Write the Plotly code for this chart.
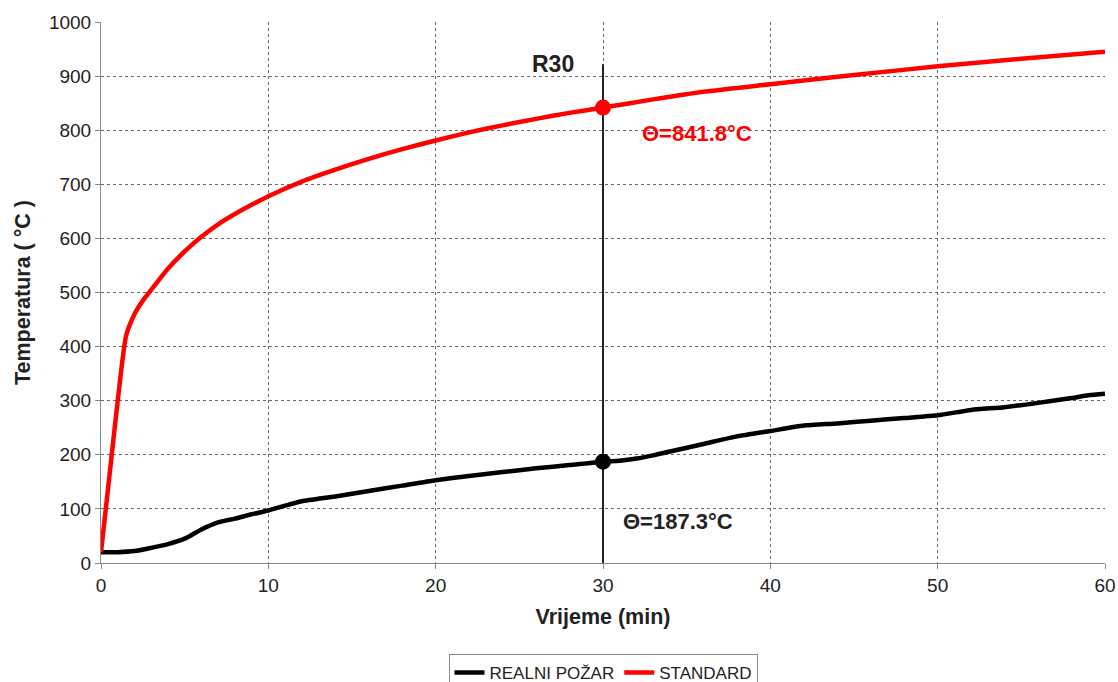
import plotly.graph_objects as go

# Data
t_real = [0, 1, 2, 3, 4, 5, 6, 7, 8, 9, 10, 11, 12, 14, 16, 18, 20, 22, 24, 26, 28, 30,
          31, 32, 33, 34, 36, 38, 40, 42, 44, 46, 48, 50, 52, 54, 56, 58, 59, 60]
temp_real = [20, 20, 22, 28, 35, 45, 62, 75, 82, 90, 97, 106, 114, 123, 133, 143, 153, 161,
             168, 175, 181, 187.3, 189, 193, 199, 206, 220, 234, 244, 254, 258, 263, 268, 273,
             283, 288, 296, 305, 310, 313]

t_std = [0, 0.5, 1, 1.5, 2, 2.5, 3, 4, 5, 6, 7, 8, 9, 10, 12, 14, 16, 18, 20, 22, 24, 26, 28,
         30, 33, 36, 40, 45, 50, 55, 60]
temp_std = [20, 160, 300, 420, 460, 485, 505, 544, 576, 603, 626, 645, 662, 678, 705, 727, 747,
            765, 781, 796, 809, 821, 832, 841.8, 857, 871, 885, 902, 918, 932, 945]

mark_t = 30
mark_std = 841.8
mark_real = 187.3
r_line_top = 922

x_ticks = [0, 10, 20, 30, 40, 50, 60]
y_ticks = [0, 100, 200, 300, 400, 500, 600, 700, 800, 900, 1000]

FONT = "Liberation Sans, Arial, sans-serif"

fig = go.Figure()

# vertical R30 line
fig.add_trace(go.Scatter(x=[mark_t, mark_t], y=[0, r_line_top], mode="lines",
                         line=dict(color="#222222", width=2), showlegend=False, hoverinfo="skip"))

fig.add_trace(go.Scatter(x=t_real, y=temp_real, mode="lines", name="REALNI POŽAR",
                         line=dict(color="black", width=4.5, shape="spline", smoothing=0.6)))
fig.add_trace(go.Scatter(x=t_std, y=temp_std, mode="lines", name="STANDARD",
                         line=dict(color="#ff0000", width=4.5, shape="spline", smoothing=0.6)))

fig.add_trace(go.Scatter(x=[mark_t], y=[mark_std], mode="markers",
                         marker=dict(color="#ff0000", size=16), showlegend=False))
fig.add_trace(go.Scatter(x=[mark_t], y=[mark_real], mode="markers",
                         marker=dict(color="black", size=16), showlegend=False))

fig.add_annotation(x=mark_t, y=r_line_top, text="<b>R30</b>", showarrow=False,
                   xanchor="right", yanchor="middle", xshift=-27, yshift=0,
                   font=dict(family=FONT, size=23, color="#222222"))
fig.add_annotation(x=32.2, y=793, text="<b>Θ=841.8°C</b>", showarrow=False,
                   xanchor="left", yanchor="middle",
                   font=dict(family=FONT, size=22, color="#ff0000"))
fig.add_annotation(x=31.1, y=76, text="<b>Θ=187.3°C</b>", showarrow=False,
                   xanchor="left", yanchor="middle",
                   font=dict(family=FONT, size=22, color="#222222"))

fig.update_layout(
    width=1118, height=682,
    margin=dict(l=101, r=13, t=22, b=119, autoexpand=False),
    paper_bgcolor="white", plot_bgcolor="white",
    font=dict(family=FONT, size=19, color="#222222"),
    legend=dict(orientation="h", x=0.5, xanchor="center", y=-0.168, yanchor="top",
                bordercolor="#888888", borderwidth=1, font=dict(size=17, color="#222222"),
                tracegroupgap=0),
)
fig.update_xaxes(range=[0, 60], tickvals=x_ticks, showgrid=True, gridcolor="#666666",
                 griddash="dot", gridwidth=1, showline=True, linecolor="#888888", linewidth=1,
                 ticks="outside", ticklen=5, tickcolor="#888888", zeroline=False,
                 automargin=False,
                 title=dict(text="<b>Vrijeme (min)</b>", font=dict(size=21.5), standoff=14),
                 tickfont=dict(size=19))
fig.update_yaxes(range=[0, 1000], tickvals=y_ticks, showgrid=True, gridcolor="#666666",
                 griddash="dot", gridwidth=1, showline=True, linecolor="#888888", linewidth=1,
                 ticks="outside", ticklen=5, tickcolor="#888888", zeroline=False,
                 automargin=False,
                 title=dict(text="<b>Temperatura ( °C )</b>", font=dict(size=21.5), standoff=12),
                 tickfont=dict(size=19))

# remove the browser's default 8px body margin so the figure fills the window exactly
fig.write_html("out.html", config={"displayModeBar": False},
               post_script="document.body.style.margin='0px';document.body.style.overflow='hidden';")
